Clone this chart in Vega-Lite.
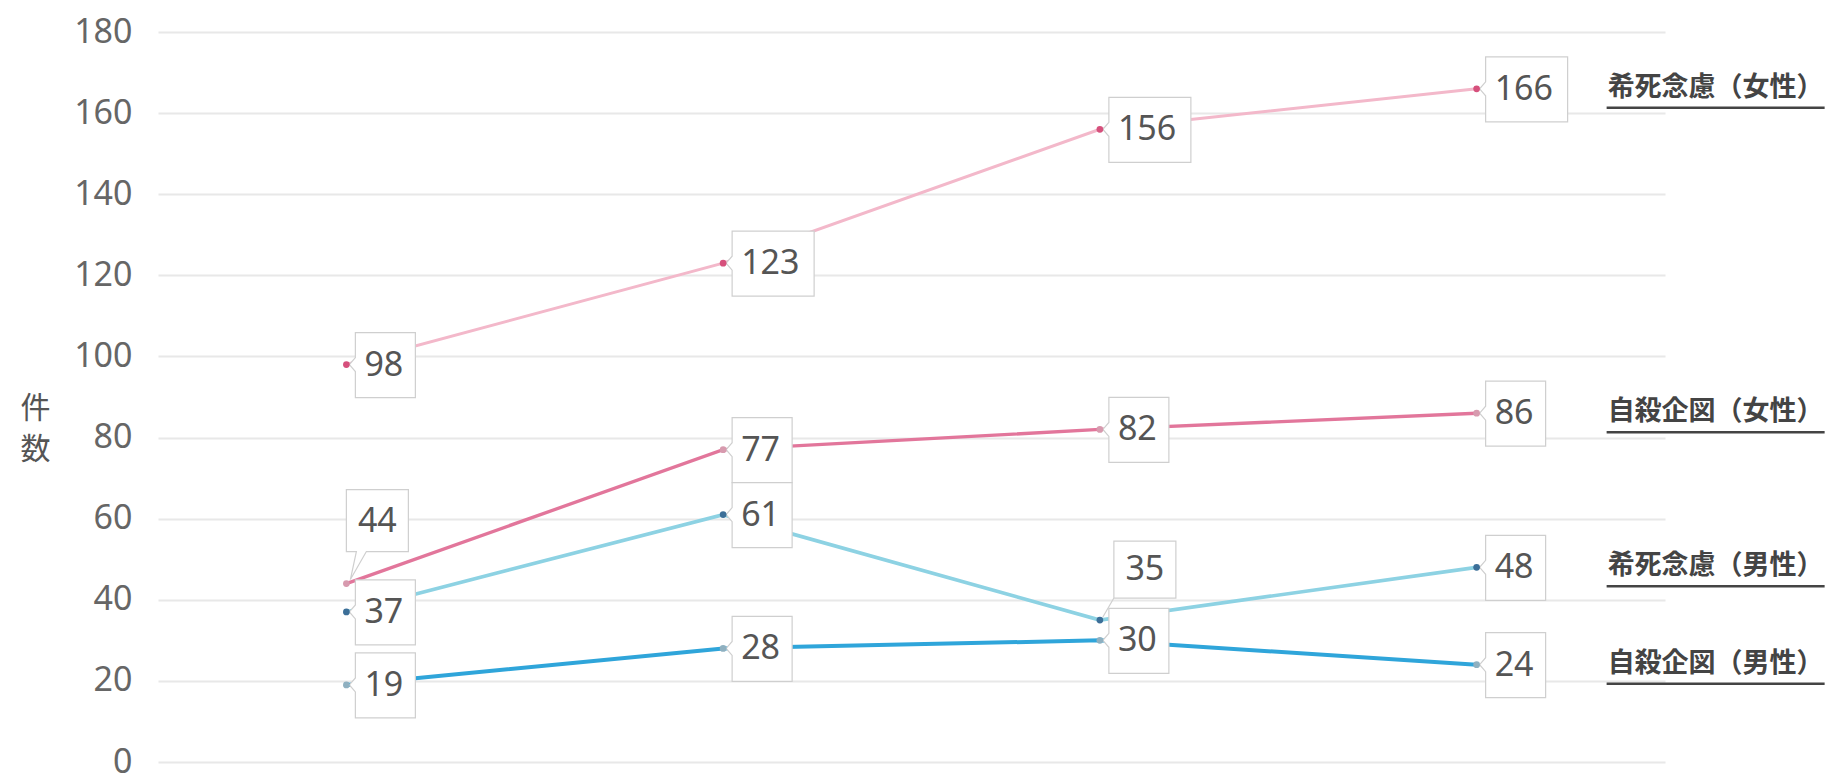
{
  "$schema": "https://vega.github.io/schema/vega-lite/v6.json",
  "width": 1507,
  "height": 730,
  "autosize": "none",
  "padding": {"left": 158, "top": 32, "right": 167, "bottom": 12},
  "background": "white",
  "config": {"view": {"stroke": null}, "font": "Noto Sans"},
  "data": {
    "values": [
      {"series": "希死念慮（女性）", "x": "1", "value": 98},
      {"series": "希死念慮（女性）", "x": "2", "value": 123},
      {"series": "希死念慮（女性）", "x": "3", "value": 156},
      {"series": "希死念慮（女性）", "x": "4", "value": 166},
      {"series": "自殺企図（女性）", "x": "1", "value": 44},
      {"series": "自殺企図（女性）", "x": "2", "value": 77},
      {"series": "自殺企図（女性）", "x": "3", "value": 82},
      {"series": "自殺企図（女性）", "x": "4", "value": 86},
      {"series": "希死念慮（男性）", "x": "1", "value": 37},
      {"series": "希死念慮（男性）", "x": "2", "value": 61},
      {"series": "希死念慮（男性）", "x": "3", "value": 35},
      {"series": "希死念慮（男性）", "x": "4", "value": 48},
      {"series": "自殺企図（男性）", "x": "1", "value": 19},
      {"series": "自殺企図（男性）", "x": "2", "value": 28},
      {"series": "自殺企図（男性）", "x": "3", "value": 30},
      {"series": "自殺企図（男性）", "x": "4", "value": 24}
    ]
  },
  "encoding": {
    "x": {"field": "x", "type": "ordinal", "scale": {"type": "point", "padding": 0.5}, "axis": null},
    "y": {
      "field": "value", "type": "quantitative",
      "scale": {"domain": [0, 180], "nice": false},
      "axis": {
        "values": [0, 20, 40, 60, 80, 100, 120, 140, 160, 180],
        "domain": false, "ticks": false,
        "gridColor": "#e8e8e8", "gridWidth": 2,
        "labelFontSize": 34, "labelColor": "#666", "labelPadding": 26, "labelFont": "Noto Sans",
        "title": ["件", "数"], "titleAngle": 0, "titleFont": "Noto Sans CJK JP", "titleFontSize": 30,
        "titleColor": "#555", "titleFontWeight": "normal", "titleLineHeight": 41,
        "titleAlign": "center", "titleBaseline": "middle", "titleX": -123, "titleY": 376
      }
    }
  },
  "layer": [
    {
      "mark": {"type": "line"},
      "encoding": {
        "detail": {"field": "series"},
        "stroke": {"field": "series", "type": "nominal", "legend": null,
          "scale": {"domain": ["希死念慮（女性）", "自殺企図（女性）", "希死念慮（男性）", "自殺企図（男性）"],
                    "range": ["#f3b8ca", "#e2769b", "#8dd2e3", "#2fa5da"]}},
        "strokeWidth": {"field": "series", "type": "nominal", "legend": null,
          "scale": {"domain": ["希死念慮（女性）", "自殺企図（女性）", "希死念慮（男性）", "自殺企図（男性）"],
                    "range": [3, 4, 3.5, 4]}}
      }
    },
    {
      "transform": [{"filter": "!((datum.series == '自殺企図（女性）' && datum.x == '1') || (datum.series == '希死念慮（男性）' && datum.x == '3'))"}],
      "mark": {"type": "point", "size": 40000, "filled": true, "fill": "white", "stroke": "#cfcfcf", "strokeWidth": 1.2, "opacity": 1},
      "encoding": {
        "shape": {
          "condition": {"test": "datum.value >= 100", "value": "M 0.09 -0.32 H 0.91 V 0.33 H 0.09 V 0.07 L 0.03 0 L 0.09 -0.07 Z"},
          "value": "M 0.09 -0.32 H 0.69 V 0.33 H 0.09 V 0.07 L 0.03 0 L 0.09 -0.07 Z"
        }
      }
    },
    {
      "transform": [{"filter": "datum.series == '自殺企図（女性）' && datum.x == '1'"}],
      "mark": {"type": "point", "size": 40000, "filled": true, "fill": "white", "stroke": "#cfcfcf", "strokeWidth": 1.2, "opacity": 1,
               "shape": "M 0 -0.94 H 0.62 V -0.32 H 0.2 L 0.04 -0.04 L 0.1 -0.32 H 0 Z"}
    },
    {
      "transform": [{"filter": "datum.series == '希死念慮（男性）' && datum.x == '3'"}],
      "mark": {"type": "point", "size": 40000, "filled": true, "fill": "white", "stroke": "#cfcfcf", "strokeWidth": 1.2, "opacity": 1,
               "shape": "M 0.14 -0.79 H 0.76 V -0.22 H 0.14 Z M 0.14 -0.22 L 0.03 -0.03"}
    },
    {
      "mark": {"type": "point", "filled": true, "size": 45, "opacity": 1},
      "encoding": {
        "fill": {"field": "series", "type": "nominal", "legend": null,
          "scale": {"domain": ["希死念慮（女性）", "自殺企図（女性）", "希死念慮（男性）", "自殺企図（男性）"],
                    "range": ["#d6507c", "#d79aae", "#3c6f98", "#8fb0c0"]}}
      }
    },
    {
      "transform": [{"filter": "!((datum.series == '自殺企図（女性）' && datum.x == '1') || (datum.series == '希死念慮（男性）' && datum.x == '3'))"}],
      "mark": {"type": "text", "align": "left", "baseline": "middle", "dx": 18, "dy": 1, "fontSize": 34, "color": "#555", "font": "Noto Sans"},
      "encoding": {"text": {"field": "value", "type": "quantitative"}}
    },
    {
      "transform": [{"filter": "datum.series == '自殺企図（女性）' && datum.x == '1'"}],
      "mark": {"type": "text", "align": "center", "baseline": "middle", "dx": 31, "dy": -62, "fontSize": 34, "color": "#555", "font": "Noto Sans"},
      "encoding": {"text": {"field": "value", "type": "quantitative"}}
    },
    {
      "transform": [{"filter": "datum.series == '希死念慮（男性）' && datum.x == '3'"}],
      "mark": {"type": "text", "align": "center", "baseline": "middle", "dx": 45, "dy": -50, "fontSize": 34, "color": "#555", "font": "Noto Sans"},
      "encoding": {"text": {"field": "value", "type": "quantitative"}}
    },
    {
      "transform": [{"filter": "datum.x == '4'"}],
      "mark": {"type": "text", "align": "left", "baseline": "middle", "dx": 131, "dy": -1, "fontSize": 27, "fontWeight": "bold", "color": "#444", "font": "Noto Sans CJK JP"},
      "encoding": {"text": {"field": "series", "type": "nominal"}}
    },
    {
      "transform": [{"filter": "datum.x == '4'"}],
      "mark": {"type": "point", "size": 40000, "filled": false, "stroke": "#444", "strokeWidth": 2.5, "opacity": 1,
               "shape": "M 1.30 0.19 H 3.48"}
    }
  ]
}
